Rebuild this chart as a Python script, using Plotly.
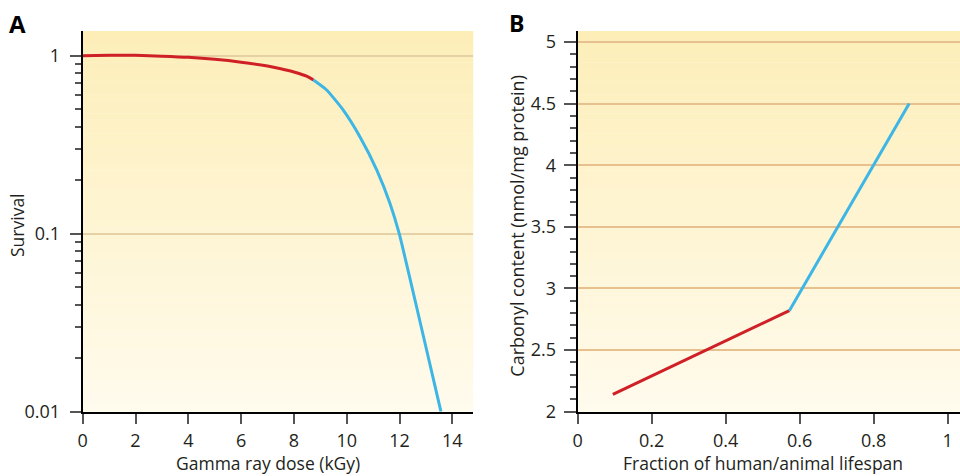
import plotly.graph_objects as go

# ---------------- data ----------------
# Panel A: survival vs gamma ray dose
dose_red = [0, 1, 2, 3, 4, 5, 6, 7, 7.5, 8, 8.5, 8.74]
surv_red = [1.0, 1.005, 1.005, 0.995, 0.98, 0.955, 0.92, 0.875, 0.845, 0.81, 0.765, 0.73]
dose_blue = [8.74, 9.24, 9.87, 10.5, 11.14, 11.64, 11.99, 12.8, 13.57]
surv_blue = [0.73, 0.642, 0.495, 0.351, 0.228, 0.148, 0.1, 0.031, 0.01]

# Panel B: carbonyl content vs fraction of lifespan
frac_red = [0.095, 0.572]
carb_red = [2.14, 2.82]
frac_blue = [0.572, 0.896]
carb_blue = [2.82, 4.5]

a_xticks = [0, 2, 4, 6, 8, 10, 12, 14]
a_yticks = [0.01, 0.1, 1]
a_yticktext = ["0.01", "0.1", "1"]
a_yminor = [0.02, 0.03, 0.04, 0.05, 0.06, 0.07, 0.08, 0.09,
            0.2, 0.3, 0.4, 0.5, 0.6, 0.7, 0.8, 0.9]
b_xticks = [0, 0.2, 0.4, 0.6, 0.8, 1]
b_xticktext = ["0", "0.2", "0.4", "0.6", "0.8", "1"]
b_yticks = [2, 2.5, 3, 3.5, 4, 4.5, 5]
b_yticktext = ["2", "2.5", "3", "3.5", "4", "4.5", "5"]

# ---------------- style ----------------
W, H = 960, 476
RED = "#cf2027"
BLUE = "#3db6e6"
FONT = "Open Sans"
TXT = "#231f20"
TOP = (253, 238, 184)
BOT = (255, 251, 237)

ax_left_a, ax_right_a = 82.7, 473.3
ax_left_b, ax_right_b = 577.7, 960
top_px, bot_px = 31, 411.7

fig = go.Figure()
fig.add_trace(go.Scatter(x=dose_red, y=surv_red, mode="lines", line=dict(color=RED, width=3, shape="spline", smoothing=0.6),
                         xaxis="x", yaxis="y", showlegend=False, hoverinfo="skip"))
fig.add_trace(go.Scatter(x=dose_blue, y=surv_blue, mode="lines", line=dict(color=BLUE, width=3, shape="spline", smoothing=0.5),
                         xaxis="x", yaxis="y", showlegend=False, hoverinfo="skip"))
fig.add_trace(go.Scatter(x=frac_red, y=carb_red, mode="lines", line=dict(color=RED, width=3),
                         xaxis="x2", yaxis="y2", showlegend=False, hoverinfo="skip"))
fig.add_trace(go.Scatter(x=frac_blue, y=carb_blue, mode="lines", line=dict(color=BLUE, width=3),
                         xaxis="x2", yaxis="y2", showlegend=False, hoverinfo="skip"))

# gradient backgrounds
N = 60
shapes = []
for xr, yr in (("x domain", "y domain"), ("x2 domain", "y2 domain")):
    for i in range(N):
        t = (i + 0.5) / N  # 0 bottom -> 1 top
        c = tuple(round(BOT[k] + (TOP[k] - BOT[k]) * t) for k in range(3))
        shapes.append(dict(type="rect", xref=xr, yref=yr, x0=0, x1=1,
                           y0=i / N, y1=min(1, (i + 1.05) / N),
                           fillcolor="rgb(%d,%d,%d)" % c, line=dict(width=0), layer="below"))

ydom = [(H - bot_px) / H, (H - top_px) / H]
tickfont = dict(family=FONT, size=18, color=TXT)
TICKC = "#555555"

fig.update_layout(
    template="none",
    width=W, height=H,
    margin=dict(l=0, r=0, t=0, b=0, pad=0),
    paper_bgcolor="white", plot_bgcolor="rgba(0,0,0,0)",
    shapes=shapes,
    xaxis=dict(domain=[ax_left_a / W, ax_right_a / W], range=[0, (ax_right_a - ax_left_a) / 26.4],
               tickmode="array", tickvals=a_xticks, ticks="outside", ticklen=10, tickwidth=1.5,
               tickcolor=TICKC, showline=True, linecolor="black", linewidth=2, automargin=False,
               showgrid=False, zeroline=False, tickfont=tickfont, anchor="y", ticklabelstandoff=2),
    yaxis=dict(domain=ydom, type="log", range=[-2, 0.139], tickmode="array", tickvals=a_yticks,
               ticktext=a_yticktext, ticks="outside", ticklen=11, tickwidth=1.5, tickcolor=TICKC,
               minor=dict(tickmode="array", tickvals=a_yminor, ticks="outside", ticklen=6,
                          tickwidth=1.5, tickcolor=TICKC, showgrid=False),
               showline=True, linecolor="black", linewidth=2, showgrid=True, gridcolor="#e6d1a6",
               gridwidth=1.5, zeroline=False, tickfont=tickfont, anchor="x", ticklabelstandoff=6,
               automargin=False),
    xaxis2=dict(domain=[ax_left_b / W, 1], range=[0, (ax_right_b - ax_left_b) / 370.0],
                tickmode="array", tickvals=b_xticks, ticktext=b_xticktext, ticks="outside",
                ticklen=10, tickwidth=1.5, tickcolor=TICKC, showline=True, linecolor="black",
                linewidth=2, showgrid=False, zeroline=False, tickfont=tickfont, anchor="y2",
                ticklabelstandoff=2, automargin=False),
    yaxis2=dict(domain=ydom, range=[2, 5 + (42 - top_px) / 123.2], tickmode="array", tickvals=b_yticks,
                ticktext=b_yticktext, ticks="outside", ticklen=12, tickwidth=1.5, tickcolor=TICKC,
                minor=dict(dtick=0.1, tick0=2, ticks="outside", ticklen=6, tickwidth=1.5,
                           tickcolor=TICKC, showgrid=False),
                showline=True, linecolor="black", linewidth=2, showgrid=True, gridcolor="#e8c08e",
                gridwidth=1.5, zeroline=False, tickfont=tickfont, anchor="x2", ticklabelstandoff=4,
                automargin=False),
)

titlefont = dict(family=FONT, size=17.5, color=TXT)
annotations = [
    dict(text="<b>A</b>", x=7 / W, y=1 - 5 / H, xref="paper", yref="paper", xanchor="left", yanchor="top",
         showarrow=False, font=dict(family=FONT, size=24, color="black")),
    dict(text="<b>B</b>", x=507 / W, y=1 - 5 / H, xref="paper", yref="paper", xanchor="left", yanchor="top",
         showarrow=False, font=dict(family=FONT, size=23, color="black")),
    dict(text="Gamma ray dose (kGy)", x=7, xref="x", y=0, yref="paper", xanchor="center",
         yanchor="bottom", yshift=-1, showarrow=False, font=titlefont),
    dict(text="Fraction of human/animal lifespan", x=0.5, xref="x2", y=0, yref="paper",
         xanchor="center", yanchor="bottom", yshift=-1, showarrow=False, font=titlefont),
    dict(text="Survival", x=17 / W, y=1 - 225 / H, xref="paper", yref="paper", xanchor="center",
         yanchor="middle", textangle=-90, showarrow=False, font=titlefont),
    dict(text="Carbonyl content (nmol/mg protein)", x=516.7 / W, y=1 - 226 / H, xref="paper", yref="paper",
         xanchor="center", yanchor="middle", textangle=-90, showarrow=False,
         font=dict(family=FONT, size=18, color=TXT)),
]
fig.update_layout(annotations=annotations)

fig.write_html("out.html", config={"displayModeBar": False},
               post_script="document.body.style.margin='0px';document.body.style.overflow='hidden';")
